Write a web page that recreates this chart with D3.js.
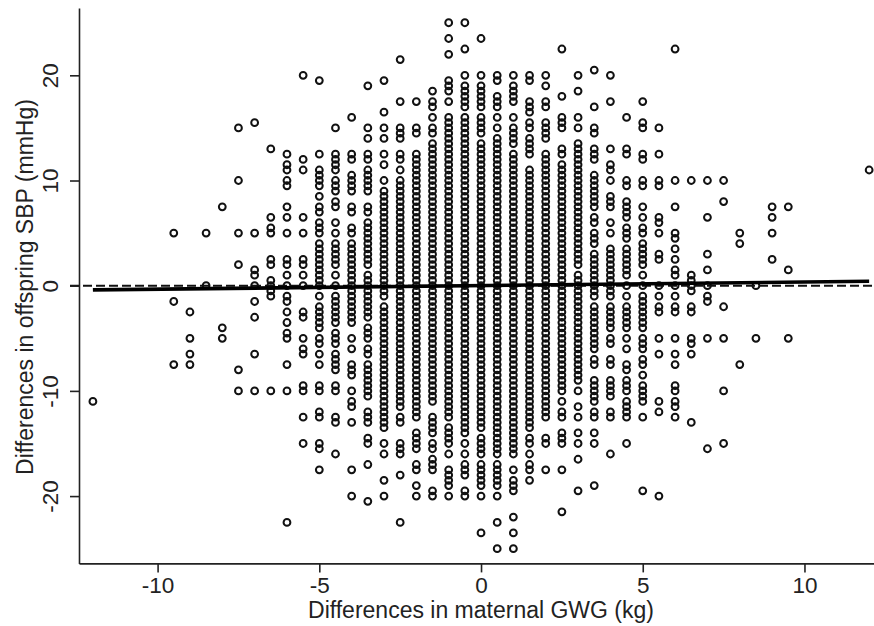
<!DOCTYPE html>
<html lang="en">
<head>
  <meta charset="UTF-8" />
  <title>GWG vs SBP differences</title>
  <style>
    body { margin: 0; background: #fff; }
    text { font-family: "Liberation Sans", Arial, sans-serif; fill: #222; }
  </style>
</head>
<body>
  <script src="https://cdn.jsdelivr.net/npm/d3@7/dist/d3.min.js"></script>
  <script>
    var w = 874
    var h = 626

    // one x value per column of points, the y values of that column below
    var gwgDiff = [-12, -9.5, -9, -8.5, -8, -7.5, -7, -6.5, -6, -5.5, -5, -4.5, -4, -3.5, -3, -2.5, -2, -1.5, -1, -0.5, 0, 0.5, 1, 1.5, 2, 2.5, 3, 3.5, 4, 4.5, 5, 5.5, 6, 6.5, 7, 7.5, 8, 8.5, 9, 9.5, 12]
    var sbpDiff = [
      [-11],
      [5, -1.5, -7.5],
      [-2.5, -5, -6.5, -7.5],
      [5, 0],
      [7.5, -4, -5],
      [15, 10, 5, 2, -8, -10],
      [15.5, 5, 1.5, 1, 0, -1.5, -3, -6.5, -10],
      [13, 6.5, 5.5, 5, 2.5, 2, 0.5, 0, -0.5, -1, -10],
      [12.5, 11.5, 11, 10, 9.5, 7.5, 6.5, 5, 2.5, 2, 1, 0, -1, -1.5, -2.5, -3.5, -4.5, -5, -7.5, -10, -22.5],
      [20, 12, 11, 6.5, 5, 2.5, 2, 1, 0, -2.5, -3, -5, -6, -6.5, -9.5, -10, -12.5, -15],
      [19.5, 12.5, 11, 10.5, 10, 9.5, 8.5, 7.5, 7, 6, 5.5, 5, 4, 3.5, 3, 2.5, 2, 1.5, 1, 0.5, 0, -1, -2, -2.5, -3, -3.5, -4, -5, -5.5, -6.5, -7.5, -9.5, -10, -12, -12.5, -15, -15.5, -17.5],
      [15, 12.5, 12, 11.5, 11, 10, 9.5, 9, 8, 7.5, 6, 5, 4, 3.5, 3, 2.5, 2, 1, 0, -1, -1.5, -2, -2.5, -3, -3.5, -4.5, -5, -5.5, -6.5, -7, -7.5, -8, -9.5, -10, -12.5, -13, -16],
      [16, 12.5, 12, 10.5, 10, 9.5, 9, 7.5, 7, 5.5, 5, 4, 3.5, 3, 2.5, 2, 1.5, 1, 0.5, 0, -0.5, -1, -1.5, -2, -2.5, -3, -3.5, -5, -6, -7.5, -8, -8.5, -10, -11, -11.5, -13, -17.5, -20],
      [19, 15, 14, 12.5, 12, 11, 10.5, 10, 9.5, 9, 7.5, 7, 6, 5.5, 5, 4.5, 4, 3.5, 3, 2.5, 2, 1, 0.5, 0, -0.5, -1, -1.5, -2, -2.5, -3, -4, -4.5, -5, -6, -6.5, -7.5, -8, -8.5, -9, -9.5, -10, -10.5, -12, -12.5, -13, -14.5, -15, -17, -20.5],
      [19.5, 16.5, 15, 14, 12.5, 11.5, 10, 9, 8.5, 8, 7.5, 7, 6.5, 6, 5.5, 5, 4.5, 4, 3.5, 3, 2.5, 2, 1.5, 1, 0.5, 0, -0.5, -1, -2, -2.5, -3, -3.5, -4, -4.5, -5, -5.5, -6, -6.5, -7, -7.5, -8, -8.5, -9, -9.5, -10, -10.5, -11, -11.5, -12, -12.5, -13, -13.5, -15, -16, -18.5, -20],
      [21.5, 17.5, 15, 14.5, 14, 12.5, 12, 11, 10, 9.5, 9, 8.5, 8, 7.5, 7, 6.5, 6, 5.5, 5, 4.5, 4, 3.5, 3, 2.5, 2, 1.5, 1, 0.5, 0, -0.5, -1, -1.5, -2, -2.5, -3, -3.5, -4, -4.5, -5, -5.5, -6, -6.5, -7, -7.5, -8, -8.5, -9, -9.5, -10, -10.5, -11, -11.5, -12.5, -13, -15, -15.5, -16, -18, -22.5],
      [17.5, 15, 14.5, 12.5, 12, 11.5, 11, 10.5, 10, 9.5, 9, 8.5, 8, 7.5, 7, 6.5, 6, 5.5, 5, 4.5, 4, 3.5, 3, 2.5, 2, 1.5, 1, 0.5, 0, -0.5, -1, -1.5, -2, -2.5, -3, -3.5, -4, -4.5, -5, -5.5, -6, -6.5, -7, -7.5, -8, -8.5, -9, -9.5, -10, -10.5, -11, -11.5, -12, -12.5, -14, -14.5, -15, -15.5, -17, -17.5, -19, -20],
      [18.5, 17.5, 17, 16, 15, 14.5, 13.5, 13, 12.5, 12, 11.5, 11, 10.5, 10, 9.5, 9, 8.5, 8, 7.5, 7, 6.5, 6, 5.5, 5, 4.5, 4, 3.5, 3, 2.5, 2, 1.5, 1, 0.5, 0, -0.5, -1, -1.5, -2, -2.5, -3, -3.5, -4, -4.5, -5, -5.5, -6, -6.5, -7, -7.5, -8, -8.5, -9, -9.5, -10, -10.5, -11, -12.5, -13, -13.5, -14, -15, -15.5, -16.5, -17, -17.5, -19.5, -20],
      [25, 23.5, 22, 19.5, 19, 18.5, 17.5, 16, 15.5, 15, 14.5, 14, 13.5, 13, 12.5, 12, 11.5, 11, 10.5, 10, 9.5, 9, 8.5, 8, 7.5, 7, 6.5, 6, 5.5, 5, 4.5, 4, 3.5, 3, 2.5, 2, 1.5, 1, 0.5, 0, -0.5, -1, -1.5, -2, -2.5, -3, -3.5, -4, -4.5, -5, -5.5, -6, -6.5, -7, -7.5, -8, -8.5, -9, -9.5, -10, -10.5, -11, -11.5, -12, -12.5, -13.5, -14, -14.5, -15, -16, -17.5, -18, -18.5, -19, -20],
      [25, 22.5, 20, 19, 18.5, 18, 17.5, 17, 16, 15.5, 15, 14.5, 14, 13.5, 13, 12.5, 12, 11.5, 11, 10.5, 10, 9.5, 9, 8.5, 8, 7.5, 7, 6.5, 6, 5.5, 5, 4.5, 4, 3.5, 3, 2.5, 2, 1.5, 1, 0.5, 0, -0.5, -1, -1.5, -2, -2.5, -3, -3.5, -4, -4.5, -5, -5.5, -6, -6.5, -7, -7.5, -8, -8.5, -9, -9.5, -10, -10.5, -11, -11.5, -12, -12.5, -13, -13.5, -14, -15, -16, -17, -17.5, -18, -19.5, -20],
      [23.5, 20, 19, 18.5, 18, 17.5, 17, 16, 15.5, 15, 14.5, 13.5, 13, 12.5, 12, 11.5, 11, 10.5, 10, 9.5, 9, 8.5, 8, 7.5, 7, 6.5, 6, 5.5, 5, 4.5, 4, 3.5, 3, 2.5, 2, 1.5, 1, 0.5, 0, -0.5, -1, -1.5, -2, -2.5, -3, -3.5, -4, -4.5, -5, -5.5, -6, -6.5, -7, -7.5, -8, -8.5, -9, -9.5, -10, -10.5, -11, -11.5, -12, -12.5, -13, -13.5, -14.5, -15, -15.5, -16, -17, -17.5, -18, -18.5, -19, -20, -23.5],
      [20, 19.5, 18, 17.5, 17, 16, 15, 14, 13.5, 13, 12.5, 12, 11.5, 11, 10.5, 10, 9.5, 9, 8.5, 8, 7.5, 7, 6.5, 6, 5.5, 5, 4.5, 4, 3.5, 3, 2.5, 2, 1.5, 1, 0.5, 0, -0.5, -1, -1.5, -2, -2.5, -3, -3.5, -4, -4.5, -5, -5.5, -6, -6.5, -7, -7.5, -8, -8.5, -9, -9.5, -10, -10.5, -11, -11.5, -12, -12.5, -13, -13.5, -14, -14.5, -15, -15.5, -16, -17, -17.5, -18, -18.5, -19, -20, -22.5, -25],
      [20, 19, 18.5, 18, 17.5, 16, 15, 14.5, 14, 13.5, 12.5, 12, 11.5, 11, 10.5, 10, 9.5, 9, 8.5, 8, 7.5, 7, 6.5, 6, 5.5, 5, 4.5, 4, 3.5, 3, 2.5, 2, 1.5, 1, 0.5, 0, -0.5, -1, -1.5, -2, -2.5, -3, -3.5, -4, -4.5, -5, -5.5, -6, -6.5, -7, -7.5, -8, -8.5, -9, -9.5, -10, -10.5, -11, -11.5, -12, -12.5, -13, -13.5, -14, -14.5, -15, -15.5, -16, -17.5, -18.5, -19, -19.5, -22, -23.5, -25],
      [20, 19.5, 17.5, 17, 16.5, 15.5, 15, 14, 13.5, 13, 12.5, 11, 10.5, 10, 9.5, 9, 8.5, 8, 7.5, 7, 6.5, 6, 5.5, 5, 4.5, 4, 3.5, 3, 2.5, 2, 1.5, 1, 0.5, 0, -0.5, -1, -1.5, -2, -2.5, -3, -3.5, -4, -4.5, -5, -5.5, -6, -6.5, -7, -7.5, -8, -8.5, -9, -9.5, -10, -10.5, -11, -11.5, -12, -12.5, -13, -13.5, -14.5, -15, -16, -17, -17.5, -18.5],
      [20, 19, 17.5, 17, 15.5, 15, 14.5, 14, 12.5, 12, 11.5, 11, 10.5, 10, 9.5, 9, 8.5, 8, 7.5, 7, 6.5, 6, 5.5, 5, 4.5, 4, 3.5, 3, 2.5, 2, 1.5, 1, 0.5, 0, -0.5, -1, -1.5, -2, -2.5, -3, -3.5, -4, -4.5, -5, -5.5, -6, -6.5, -7, -7.5, -8, -8.5, -9, -9.5, -10, -10.5, -11, -11.5, -12, -12.5, -14.5, -15, -17.5],
      [22.5, 18, 16, 15.5, 15, 13, 12.5, 11.5, 11, 10.5, 10, 9.5, 9, 8.5, 8, 7.5, 7, 6.5, 6, 5.5, 5, 4.5, 4, 3.5, 3, 2.5, 2, 1.5, 1, 0.5, 0, -0.5, -1, -1.5, -2, -2.5, -3, -3.5, -4, -4.5, -5, -5.5, -6, -6.5, -7, -7.5, -8, -8.5, -9, -9.5, -10, -11, -12, -12.5, -14, -14.5, -15, -17.5, -21.5],
      [20, 18.5, 16, 15, 13.5, 13, 12.5, 12, 11.5, 11, 10.5, 10, 9.5, 9, 8.5, 8, 7.5, 7, 6.5, 6, 5.5, 5, 4.5, 4, 3.5, 3, 2.5, 2, 1, 0.5, 0, -0.5, -1, -1.5, -2, -2.5, -3, -3.5, -4, -4.5, -5, -5.5, -6, -6.5, -7, -7.5, -8, -8.5, -9, -10, -11.5, -12.5, -14, -15, -16.5, -19.5],
      [20.5, 17, 15, 14.5, 13, 12.5, 12, 10.5, 10, 9.5, 9, 8.5, 8, 7.5, 6.5, 6, 5, 4.5, 4, 3, 2.5, 2, 1.5, 1, 0.5, 0, -0.5, -1, -2, -2.5, -3, -3.5, -4, -4.5, -5, -5.5, -6, -7, -7.5, -9, -9.5, -10, -10.5, -11, -12, -12.5, -14, -15, -19],
      [20, 17.5, 13, 11.5, 11, 10, 8.5, 8, 7.5, 6, 5, 3.5, 3, 2.5, 2, 1.5, 1, 0.5, 0, -0.5, -1, -2, -2.5, -3, -3.5, -4, -5, -5.5, -7, -7.5, -9, -9.5, -10, -10.5, -12, -12.5, -16],
      [16, 13, 12.5, 10, 9.5, 8, 7.5, 7, 6.5, 5.5, 5, 4.5, 3.5, 3, 2.5, 2, 1.5, 1, 0, -1, -2, -2.5, -3, -3.5, -4, -5, -6, -7.5, -8, -9, -9.5, -10, -11, -11.5, -12, -12.5, -15],
      [17.5, 15.5, 15, 12.5, 12, 10, 9.5, 7.5, 6.5, 5.5, 5, 4, 3.5, 3, 2.5, 2, 1, 0, -1, -1.5, -2, -2.5, -3, -3.5, -4, -5, -5.5, -6, -7, -7.5, -8.5, -9.5, -10, -10.5, -11, -12.5, -19.5],
      [15, 12.5, 10, 9.5, 6.5, 6, 5, 3, 2.5, 0, -1, -2, -2.5, -5, -6.5, -11, -12, -20],
      [22.5, 10, 7.5, 5, 4.5, 3.5, 2.5, 1.5, 1, 0, -1, -2, -2.5, -5, -6.5, -7.5, -9.5, -10, -11, -11.5, -12.5],
      [10, 1, 0.5, 0, -0.5, -2, -2.5, -5, -5.5, -6.5, -13],
      [10, 6.5, 3, 1.5, 0, -1, -1.5, -5, -15.5],
      [10, 8, -2, -5, -10, -15],
      [5, 4, -7.5],
      [0, -5],
      [7.5, 6.5, 5, 2.5],
      [7.5, 1.5, -5],
      [11]
    ]

    // fitted line end points, dashed reference level
    var fitX = [-12, 12]
    var fitY = [-0.4, 0.42]
    var refY = 0

    var xTicks = [-10, -5, 0, 5, 10]
    var yTicks = [-20, -10, 0, 10, 20]

    var x = d3.scaleLinear().domain([-12.43, 12.15]).range([79, 874])
    var y = d3.scaleLinear().domain([-26.4, 26.4]).range([563.4, 8])

    var svg = d3.select("body")
      .append("svg")
      .attr("width", w)
      .attr("height", h)

    // flatten columns into points
    var points = []
    gwgDiff.forEach(function(gx, i) {
      sbpDiff[i].forEach(function(v) {
        points.push([gx, v])
      })
    })

    svg.append("g")
      .selectAll("circle")
      .data(points)
      .enter()
      .append("circle")
      .attr("cx", function(d) { return x(d[0]) })
      .attr("cy", function(d) { return y(d[1]) })
      .attr("r", 3.4)
      .attr("fill", "none")
      .attr("stroke", "#111")
      .attr("stroke-width", 2)

    // dashed line at zero
    svg.append("line")
      .attr("x1", x.range()[0] - 9)
      .attr("x2", x.range()[1])
      .attr("y1", y(refY))
      .attr("y2", y(refY))
      .attr("stroke", "#111")
      .attr("stroke-width", 2)
      .attr("stroke-dasharray", "9,4")

    // fit
    svg.append("line")
      .attr("x1", x(fitX[0]))
      .attr("x2", x(fitX[1]))
      .attr("y1", y(fitY[0]))
      .attr("y2", y(fitY[1]))
      .attr("stroke", "#000")
      .attr("stroke-width", 3.6)

    var xAxis = svg.append("g")
      .attr("transform", "translate(0," + y.range()[0] + ")")
      .call(d3.axisBottom(x).tickValues(xTicks).tickSize(9).tickSizeOuter(0).tickPadding(8).tickFormat(d3.format("d")))
    var yAxis = svg.append("g")
      .attr("transform", "translate(" + x.range()[0] + ",0)")
      .call(d3.axisLeft(y).tickValues(yTicks).tickSize(9).tickSizeOuter(0).tickFormat(d3.format("d")))

    xAxis.selectAll("text")
      .attr("font-size", 22.5)
      .style("font-family", '"Liberation Sans"')
      .attr("fill", "#222")
      .text(function(d) { return d })
      .attr("y", 30)
      .attr("dy", 0)
    yAxis.selectAll("text")
      .attr("font-size", 22.5)
      .style("font-family", '"Liberation Sans"')
      .attr("fill", "#222")
      .text(function(d) { return d })
      .attr("x", 0)
      .attr("dy", 0)
      .attr("text-anchor", "middle")
      .attr("transform", "translate(-21,0) rotate(-90)")
    svg.selectAll(".domain, .tick line").attr("stroke", "#222").attr("stroke-width", 1.6)

    svg.append("text")
      .attr("x", 481)
      .attr("y", 618)
      .attr("text-anchor", "middle")
      .attr("font-size", 23)
      .text("Differences in maternal GWG (kg)")

    svg.append("text")
      .attr("transform", "translate(33,287) rotate(-90)")
      .attr("text-anchor", "middle")
      .attr("font-size", 23)
      .text("Differences in offspring SBP (mmHg)")
  </script>
</body>
</html>
